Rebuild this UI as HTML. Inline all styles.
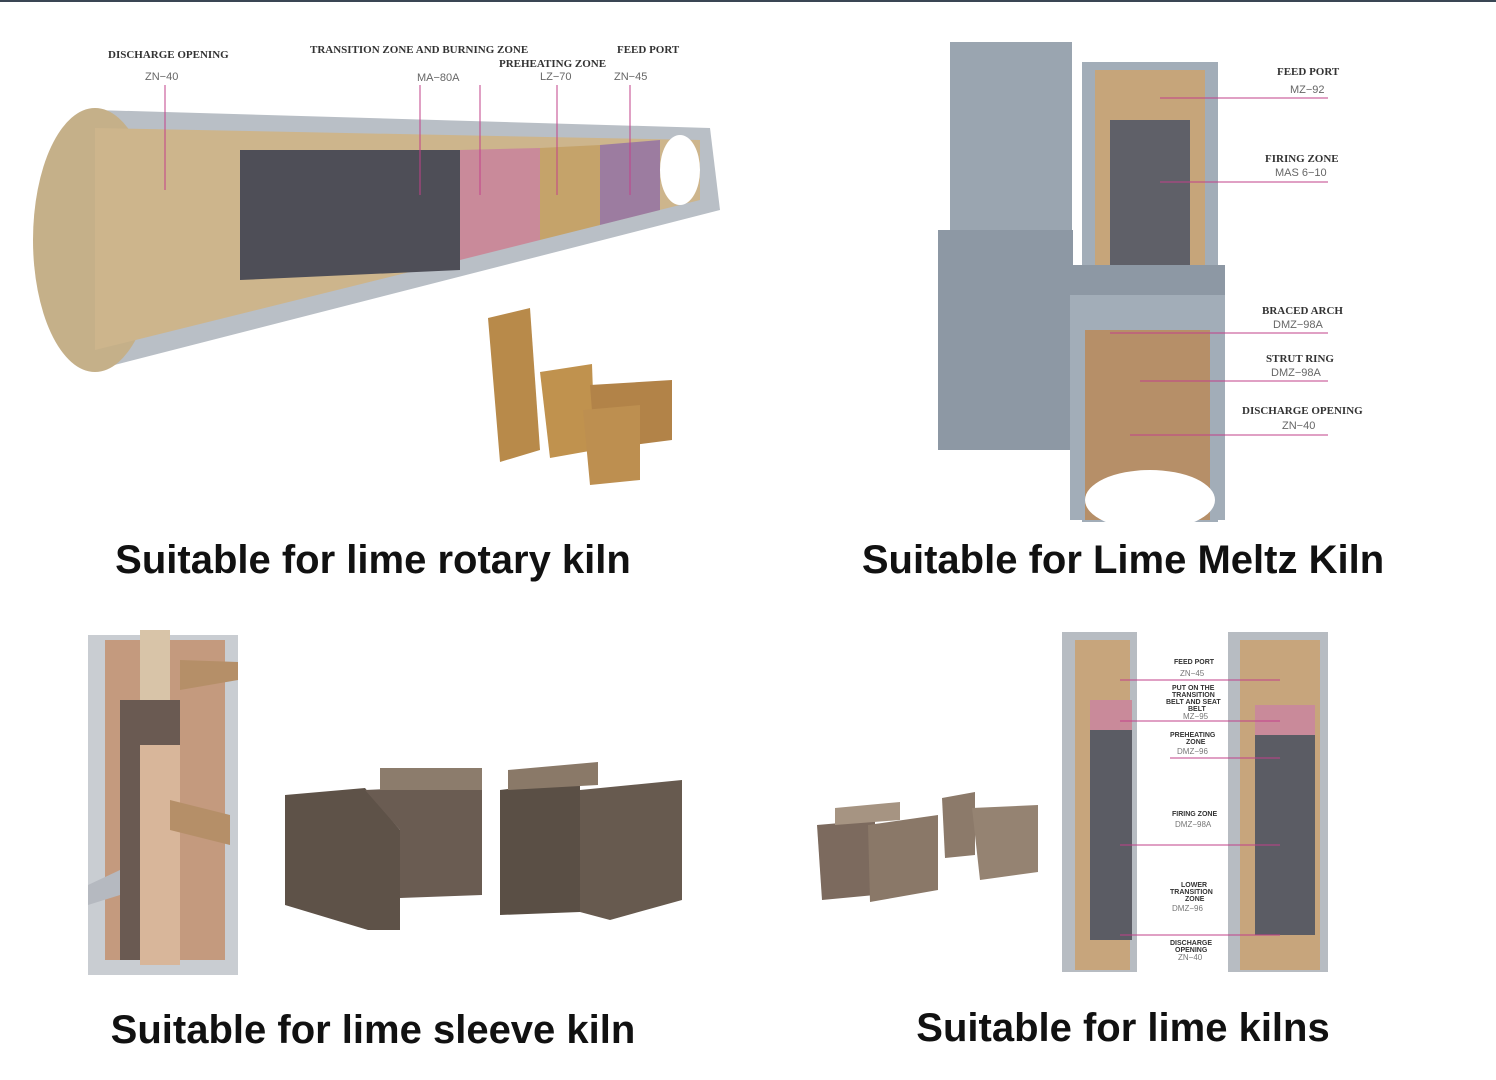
<!DOCTYPE html>
<html><head><meta charset="utf-8">
<style>
html,body{margin:0;padding:0;background:#fff;}
body{width:1496px;height:1080px;position:relative;overflow:hidden;font-family:"Liberation Sans",sans-serif;}
.t{position:absolute;font-weight:bold;font-size:40px;color:#111;white-space:nowrap;transform:translateX(-50%);}
svg{position:absolute;left:0;top:0;}
.lb{font-family:"Liberation Serif",serif;font-weight:bold;font-size:11px;fill:#333;}
.cd{font-family:"Liberation Sans",sans-serif;font-size:11px;fill:#666;}
.sm{font-family:"Liberation Sans",sans-serif;font-weight:bold;font-size:7px;fill:#333;}
.smc{font-family:"Liberation Sans",sans-serif;font-size:8px;fill:#777;}
</style></head><body>
<div style="position:absolute;left:0;top:0;width:1496px;height:2px;background:#3a4654"></div>
<svg width="1496" height="1080" viewBox="0 0 1496 1080">
<!-- rotary kiln -->
<polygon points="95,110 710,128 720,210 95,370" fill="#b9bfc6"/>
<ellipse cx="95" cy="240" rx="62" ry="132" fill="#c5b089"/>
<polygon points="95,128 700,140 700,200 95,350" fill="#cdb58c"/>
<polygon points="240,150 460,150 460,270 240,280" fill="#4e4e57"/>
<polygon points="460,150 540,148 540,240 460,260" fill="#c98a9a"/>
<polygon points="540,148 600,145 600,225 540,240" fill="#c5a36a"/>
<polygon points="600,145 660,140 660,210 600,225" fill="#9c7ca0"/>
<ellipse cx="680" cy="170" rx="20" ry="35" fill="#fff"/>
<line x1="165" y1="85" x2="165" y2="190" stroke="#c2408a"/>
<line x1="420" y1="85" x2="420" y2="195" stroke="#c2408a"/>
<line x1="480" y1="85" x2="480" y2="195" stroke="#c2408a"/>
<line x1="557" y1="85" x2="557" y2="195" stroke="#c2408a"/>
<line x1="630" y1="85" x2="630" y2="195" stroke="#c2408a"/>
<text class="lb" x="108" y="58">DISCHARGE OPENING</text><text class="cd" x="145" y="80">ZN−40</text>
<text class="lb" x="310" y="53">TRANSITION ZONE AND BURNING ZONE</text><text class="cd" x="417" y="81">MA−80A</text>
<text class="lb" x="499" y="67">PREHEATING ZONE</text><text class="cd" x="540" y="80">LZ−70</text>
<text class="lb" x="617" y="53">FEED PORT</text><text class="cd" x="614" y="80">ZN−45</text>
<polygon points="488,318 530,308 540,450 500,462" fill="#b88a4a"/>
<polygon points="540,372 592,364 595,450 550,458" fill="#c0924e"/>
<polygon points="590,385 672,380 672,440 595,450" fill="#b28348"/>
<polygon points="583,410 640,405 640,480 590,485" fill="#bd8f50"/>
<!-- meltz kiln -->
<rect x="950" y="42" width="122" height="390" fill="#9aa5b0"/>
<rect x="938" y="230" width="135" height="220" fill="#8d98a4"/>
<rect x="1082" y="62" width="136" height="460" fill="#a2adb8"/>
<rect x="1095" y="70" width="110" height="450" fill="#c6a57a"/>
<rect x="1110" y="120" width="80" height="190" fill="#5f6068"/>
<rect x="1055" y="265" width="170" height="30" fill="#8d98a4"/>
<rect x="1070" y="295" width="155" height="225" fill="#a2adb8"/>
<rect x="1085" y="330" width="125" height="190" fill="#b68f68"/>
<ellipse cx="1150" cy="500" rx="65" ry="30" fill="#fff"/>
<line x1="1160" y1="98" x2="1328" y2="98" stroke="#c2408a"/>
<line x1="1160" y1="182" x2="1328" y2="182" stroke="#c2408a"/>
<line x1="1110" y1="333" x2="1328" y2="333" stroke="#c2408a"/>
<line x1="1140" y1="381" x2="1328" y2="381" stroke="#c2408a"/>
<line x1="1130" y1="435" x2="1328" y2="435" stroke="#c2408a"/>
<text class="lb" x="1277" y="75">FEED PORT</text><text class="cd" x="1290" y="93">MZ−92</text>
<text class="lb" x="1265" y="162">FIRING ZONE</text><text class="cd" x="1275" y="176">MAS 6−10</text>
<text class="lb" x="1262" y="314">BRACED ARCH</text><text class="cd" x="1273" y="328">DMZ−98A</text>
<text class="lb" x="1266" y="362">STRUT RING</text><text class="cd" x="1271" y="376">DMZ−98A</text>
<text class="lb" x="1242" y="414">DISCHARGE OPENING</text><text class="cd" x="1282" y="429">ZN−40</text>
<!-- sleeve kiln -->
<rect x="88" y="635" width="150" height="340" fill="#c9cdd2"/>
<rect x="105" y="640" width="120" height="320" fill="#c49a7e"/>
<rect x="120" y="700" width="60" height="260" fill="#6a5a52"/>
<rect x="140" y="630" width="30" height="70" fill="#d8c4a8"/>
<rect x="140" y="745" width="40" height="220" fill="#d8b69a"/>
<polygon points="180,660 238,662 238,680 180,690" fill="#b58f68"/>
<polygon points="170,800 230,815 230,845 170,830" fill="#b58f68"/>
<polygon points="88,885 120,870 120,895 88,905" fill="#b5b9c0"/>
<polygon points="285,795 365,788 400,830 400,930 368,930 285,905" fill="#5e5248"/>
<polygon points="365,790 482,785 482,895 400,898 400,830" fill="#6a5c52"/>
<polygon points="380,768 482,768 482,790 380,790" fill="#8c7c6c"/>
<polygon points="500,790 580,780 580,912 500,915" fill="#5a4f45"/>
<polygon points="580,790 682,780 682,900 610,920 580,912" fill="#675a4f"/>
<polygon points="508,770 598,762 598,785 508,790" fill="#8a7968"/>
<!-- lime kilns -->
<rect x="1062" y="632" width="75" height="340" fill="#b7bcc2"/>
<rect x="1075" y="640" width="55" height="330" fill="#c7a57c"/>
<rect x="1090" y="730" width="42" height="210" fill="#5b5c64"/>
<rect x="1090" y="700" width="42" height="30" fill="#c98a9a"/>
<rect x="1228" y="632" width="100" height="340" fill="#b7bcc2"/>
<rect x="1240" y="640" width="80" height="330" fill="#c7a57c"/>
<rect x="1255" y="735" width="60" height="200" fill="#5b5c64"/>
<rect x="1255" y="705" width="60" height="30" fill="#c98a9a"/>
<g stroke="#c2408a"><line x1="1120" y1="680" x2="1280" y2="680"/><line x1="1120" y1="721" x2="1280" y2="721"/><line x1="1170" y1="758" x2="1280" y2="758"/><line x1="1120" y1="845" x2="1280" y2="845"/><line x1="1120" y1="935" x2="1280" y2="935"/></g>
<text class="sm" x="1174" y="664">FEED PORT</text><text class="smc" x="1180" y="676">ZN−45</text>
<text class="sm" x="1172" y="690">PUT ON THE</text><text class="sm" x="1172" y="697">TRANSITION</text><text class="sm" x="1166" y="704">BELT AND SEAT</text><text class="sm" x="1188" y="711">BELT</text><text class="smc" x="1183" y="719">MZ−95</text>
<text class="sm" x="1170" y="737">PREHEATING</text><text class="sm" x="1186" y="744">ZONE</text><text class="smc" x="1177" y="754">DMZ−96</text>
<text class="sm" x="1172" y="816">FIRING ZONE</text><text class="smc" x="1175" y="827">DMZ−98A</text>
<text class="sm" x="1181" y="887">LOWER</text><text class="sm" x="1170" y="894">TRANSITION</text><text class="sm" x="1185" y="901">ZONE</text><text class="smc" x="1172" y="911">DMZ−96</text>
<text class="sm" x="1170" y="945">DISCHARGE</text><text class="sm" x="1175" y="952">OPENING</text><text class="smc" x="1178" y="960">ZN−40</text>
<polygon points="817,825 875,820 875,895 822,900" fill="#7c6a5e"/>
<polygon points="868,825 938,815 938,890 870,902" fill="#8a7868"/>
<polygon points="835,808 900,802 900,820 835,825" fill="#a69482"/>
<polygon points="942,798 975,792 975,855 945,858" fill="#8c7a6a"/>
<polygon points="972,808 1038,805 1038,872 980,880" fill="#958372"/>
</svg>
<div class="t" style="left:373px;top:538px;">Suitable for lime rotary kiln</div>
<div class="t" style="left:1123px;top:538px;">Suitable for Lime Meltz Kiln</div>
<div class="t" style="left:373px;top:1008px;">Suitable for lime sleeve kiln</div>
<div class="t" style="left:1123px;top:1006px;">Suitable for lime kilns</div>
</body></html>
